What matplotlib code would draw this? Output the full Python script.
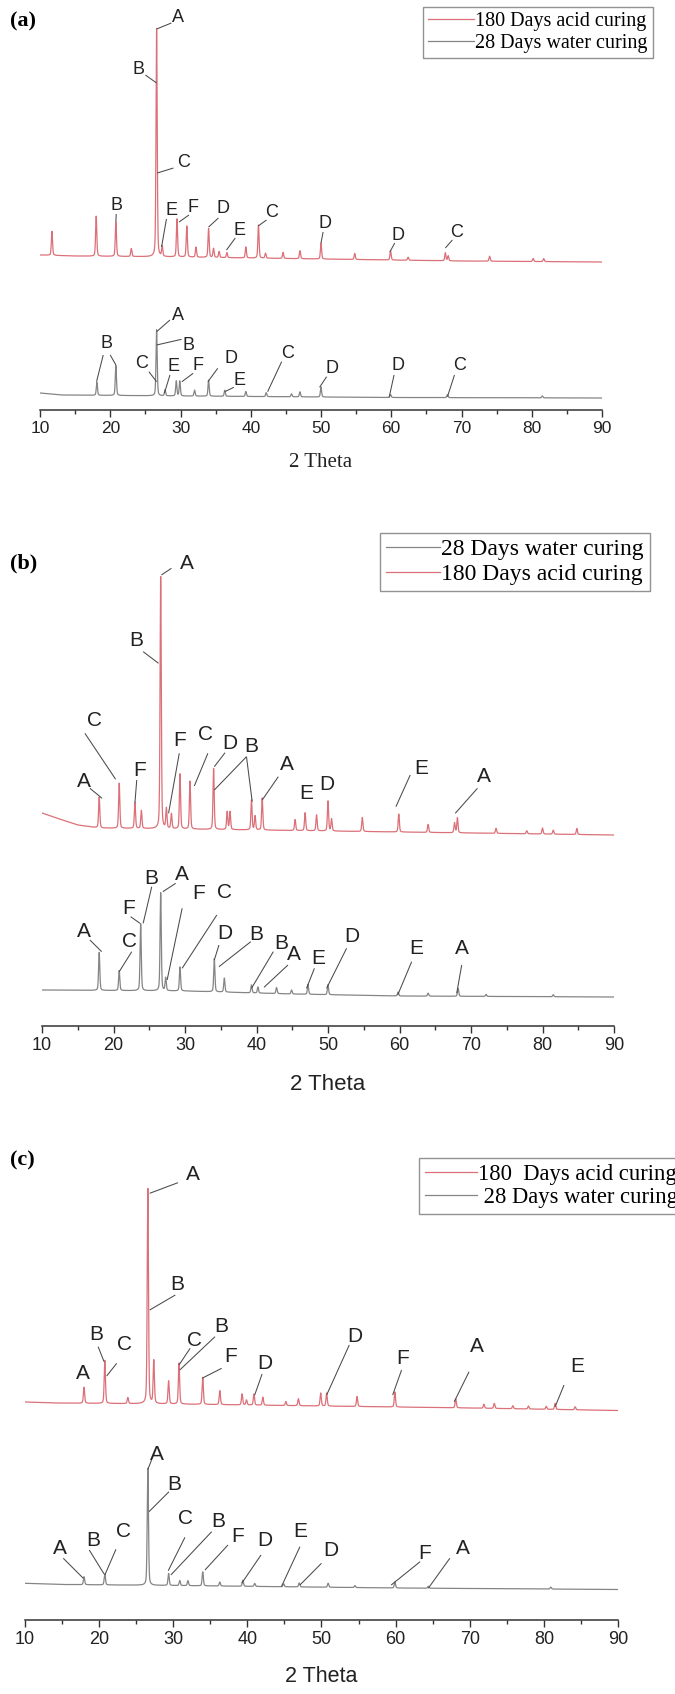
import matplotlib
import numpy as np

matplotlib.use("Agg")
import matplotlib.pyplot as plt

# ---- XRD peak lists (2 theta in degrees, intensity in a.u.) ----
# panel (a)
A_ACID_POS = [11.7, 18.0, 20.8, 23.0, 26.6, 27.4, 29.5, 30.9, 32.2, 34.0, 34.7, 35.5, 36.6, 39.3,
              41.1, 42.1, 44.6, 47.0, 50.0, 54.8, 59.9, 62.4, 67.7, 68.1, 74.0, 80.2, 81.7]
A_ACID_HT = [24, 40, 34, 8, 228, 10, 38, 31, 10, 29, 9, 6, 5, 11,
             33, 5, 6, 8, 16, 6, 9, 3, 8, 5, 5, 3, 3]
A_ACID_BG_X = [10, 15, 30, 50, 70, 90]
A_ACID_BG_Y = [155, 154, 153, 151, 149, 148]

A_WATER_POS = [18.1, 20.8, 26.6, 27.8, 29.4, 29.9, 32.0, 34.0, 36.3, 39.3, 42.2, 45.8, 47.0,
               50.0, 59.9, 68.0, 81.5]
A_WATER_HT = [13, 30, 66, 6, 15, 15, 6, 16, 6, 5, 4, 3, 5, 10, 3, 3, 2]
A_WATER_BG_X = [10, 13, 30, 60, 90]
A_WATER_BG_Y = [17, 15, 14, 12.5, 12]

# panel (b)
B_ACID_POS = [18.0, 20.8, 23.0, 23.9, 26.6, 27.4, 28.1, 29.3, 30.7, 34.0, 35.9, 36.3, 39.3, 39.8,
              40.8, 45.4, 46.8, 48.4, 50.0, 50.5, 54.8, 59.9, 64.0, 67.7, 68.1, 73.5, 77.8, 80.0,
              81.5, 84.8]
B_ACID_HT = [31, 45, 26, 18, 252, 20, 15, 55, 48, 61, 18, 18, 30, 14,
             32, 11, 18, 16, 30, 12, 14, 18, 8, 10, 15, 5, 3, 6, 4, 6]
B_ACID_BG_X = [10, 12, 15, 18, 40, 60, 90]
B_ACID_BG_Y = [213, 208, 201, 198, 196, 194, 191]

B_WATER_POS = [18.0, 20.8, 23.8, 26.6, 27.3, 29.3, 34.1, 35.5, 39.3, 40.2, 42.8, 44.9, 47.2,
               50.0, 59.8, 64.0, 68.2, 72.1, 81.5]
B_WATER_HT = [38, 20, 67, 98, 13, 24, 33, 14, 8, 6, 6, 4, 10, 10, 4, 3, 8, 2, 2]
B_WATER_BG_X = [10, 30, 45, 60, 90]
B_WATER_BG_Y = [36, 35, 32, 30, 29]

# panel (c)
C_ACID_POS = [18.0, 20.8, 23.9, 26.6, 27.4, 29.4, 30.8, 34.0, 36.3, 39.3, 39.9, 40.9, 42.1, 45.2,
              46.9, 49.9, 50.7, 54.8, 59.9, 68.1, 71.9, 73.3, 75.8, 77.9, 80.3, 81.5, 84.2]
C_ACID_HT = [16, 43, 6, 215, 43, 23, 41, 27, 14, 11, 5, 11, 8, 4,
             7, 13, 13, 10, 15, 9, 4, 5, 3, 3, 3, 6, 3]
C_ACID_BG_X = [10, 14, 30, 50, 70, 90]
C_ACID_BG_Y = [218, 217, 216, 214, 212, 209.5]

C_WATER_POS = [18.0, 20.8, 26.6, 29.4, 30.9, 32.0, 34.0, 36.3, 39.4, 41.0, 44.9, 47.0, 50.9,
               54.5, 59.9, 64.4, 80.9]
C_WATER_HT = [8, 11, 117, 12, 5, 5, 14, 4, 6, 3, 3, 4, 4, 2, 6, 2, 2]
C_WATER_BG_X = [10, 15, 30, 60, 90]
C_WATER_BG_Y = [36.7, 35.5, 34.5, 32, 30.5]

# phase labels: (letter, text 2theta, text height, leader segments)
A_NOTES = [
    ("A", 29.6, 393, [(26.6, 381, 28.7, 387)]),
    ("B", 24.05, 340, [(25.0, 335, 26.6, 327)]),
    ("C", 30.5, 248, [(26.7, 237, 29.0, 242)]),
    ("B", 20.9, 205, [(20.85, 196, 20.8, 188)]),
    ("E", 28.7, 200, [(28.0, 191, 27.3, 163)]),
    ("F", 31.8, 203, [(31.2, 195, 29.8, 188)]),
    ("D", 36.1, 202, [(35.4, 192, 34.0, 183)]),
    ("E", 38.45, 180, [(37.8, 172, 36.55, 160)]),
    ("C", 42.95, 198, [(42.25, 190, 41.05, 184)]),
    ("D", 50.5, 187, [(50.3, 178, 50.0, 167)]),
    ("D", 61.0, 175, [(60.5, 167, 59.8, 158)]),
    ("C", 69.3, 178, [(68.7, 170, 67.7, 162)]),
    ("B", 19.5, 66.7, [(19.0, 55, 18.05, 28.3), (20.0, 55, 20.8, 45)]),
    ("A", 29.7, 95, [(28.5, 90, 26.6, 78.3)]),
    ("B", 31.1, 65, [(30.15, 70.7, 26.6, 65)]),
    ("C", 24.5, 46.7, [(25.5, 38.3, 26.6, 28.3)]),
    ("E", 29.0, 43.3, [(28.5, 35, 27.7, 16.7)]),
    ("F", 32.5, 45, [(31.8, 36.7, 30.2, 28.3)]),
    ("D", 37.2, 51.7, [(35.3, 41.7, 33.9, 28.3)]),
    ("E", 38.45, 30, [(37.6, 22.7, 36.3, 18.3)]),
    ("C", 45.3, 56.7, [(44.4, 48.3, 42.4, 18.3)]),
    ("D", 51.5, 41.7, [(50.8, 33.3, 49.8, 22.7)]),
    ("D", 60.9, 45, [(60.4, 35, 59.7, 12.7)]),
    ("C", 69.75, 45, [(69.0, 35, 68.0, 13.3)]),
]

B_NOTES = [
    ("A", 30.2, 462.7, [(26.7, 451, 28.1, 457.7)]),
    ("B", 23.25, 386, [(24.15, 374.3, 26.3, 362.7)]),
    ("C", 17.4, 306, [(16.0, 292.7, 20.3, 246.7)]),
    ("A", 15.8, 244.3, [(16.7, 237.7, 18.4, 227.7)]),
    ("F", 23.7, 256, [(23.25, 246, 23.0, 223.3)]),
    ("F", 29.3, 286, [(29.2, 272.7, 27.7, 212.7)]),
    ("C", 32.8, 291, [(33.2, 272.7, 31.3, 240)]),
    ("D", 36.2, 282.7, [(35.6, 273.3, 34.1, 259.3)]),
    ("B", 39.3, 279.3, [(38.6, 269.3, 34.1, 236), (38.6, 269.3, 39.4, 224.3)]),
    ("A", 44.2, 261, [(43.05, 249.3, 40.8, 226)]),
    ("E", 47.0, 232.7, []),
    ("D", 49.8, 241, []),
    ("E", 63.1, 257.7, [(61.5, 251, 59.5, 219.3)]),
    ("A", 71.8, 249.3, [(70.9, 237.7, 67.8, 212.7)]),
    ("A", 15.8, 94.3, [(16.7, 86, 18.35, 74.3)]),
    ("C", 22.3, 84.3, [(22.55, 74.3, 20.8, 54.3)]),
    ("F", 22.1, 117.7, [(22.4, 109.3, 23.7, 102.7)]),
    ("B", 25.25, 147.7, [(25.35, 139.3, 24.15, 102.7)]),
    ("A", 29.6, 151, [(28.7, 142.7, 26.9, 134.3)]),
    ("F", 31.9, 132.7, [(29.6, 117.7, 27.5, 46)]),
    ("C", 35.55, 133.3, [(34.45, 111, 29.6, 57.7)]),
    ("D", 35.5, 92.7, [(34.75, 81, 34.1, 66)]),
    ("B", 40.0, 91, [(39.2, 84.3, 34.75, 59.3)]),
    ("B", 43.5, 82.7, [(42.35, 74.3, 39.3, 37.7)]),
    ("A", 45.2, 71, [(44.4, 61, 41.05, 38.7)]),
    ("E", 48.7, 67.7, [(48.1, 57.7, 47.0, 37.7)]),
    ("D", 53.3, 89.3, [(52.6, 77.7, 49.8, 37.7)]),
    ("E", 62.4, 77.7, [(61.7, 64.3, 59.75, 31)]),
    ("A", 68.7, 77.7, [(68.7, 61, 68.0, 32.7)]),
]

C_NOTES = [
    ("A", 32.7, 445, [(26.85, 426.7, 30.65, 437.3)]),
    ("B", 30.55, 335, [(26.85, 310, 30.3, 325)]),
    ("B", 19.7, 285, [(19.9, 273.3, 20.7, 258.3)]),
    ("C", 23.5, 275, [(22.4, 256.7, 21.05, 244)]),
    ("A", 17.9, 246.7, []),
    ("C", 32.95, 280, [(32.3, 271.7, 30.8, 255)]),
    ("B", 36.55, 293.3, [(35.65, 283.3, 30.9, 250)]),
    ("F", 37.7, 263.3, [(36.55, 251.7, 33.9, 241.7)]),
    ("D", 42.4, 256.7, [(42.0, 246, 41.0, 225)]),
    ("D", 54.5, 283.3, [(53.75, 275, 50.7, 225)]),
    ("F", 61.0, 261.7, [(60.8, 250, 59.6, 225)]),
    ("A", 71.0, 273.3, [(69.9, 248.3, 67.9, 218.3)]),
    ("E", 84.5, 253.3, [(82.7, 235, 81.5, 213.3)]),
    ("A", 27.8, 166, [(27.1, 160, 26.6, 150.7)]),
    ("B", 30.2, 135, [(29.45, 128.3, 26.75, 108.3)]),
    ("A", 14.75, 71.7, [(15.2, 61.7, 17.9, 41.7)]),
    ("B", 19.25, 80, [(18.7, 70, 20.7, 46)]),
    ("C", 23.3, 88.3, [(22.3, 70.7, 20.8, 45)]),
    ("C", 31.7, 101.7, [(31.6, 82.7, 29.35, 49.3)]),
    ("B", 36.1, 98.3, [(35.2, 88.3, 29.7, 45)]),
    ("F", 38.7, 84, [(37.4, 75, 34.3, 50)]),
    ("D", 42.4, 80, [(41.85, 65, 39.25, 36.7)]),
    ("E", 47.1, 88.3, [(47.1, 73.3, 44.6, 33.3)]),
    ("D", 51.3, 70, [(50.0, 56.7, 47.1, 35)]),
    ("F", 63.95, 66.7, [(63.3, 58.3, 59.4, 35)]),
    ("A", 69.0, 71.7, [(67.3, 61.7, 64.4, 31.7)]),
]

ACID = "180 Days acid curing"
WATER = "28 Days water curing"

RED = "#dc7078"
GREY = "#858585"
SERIF = ["Liberation Serif", "DejaVu Serif"]
SANS = ["Liberation Sans", "DejaVu Sans"]

W, H = 675, 1694
TT = np.arange(10.0, 90.0001, 0.01)


def peak(tt, pos, height, fwhm=0.2):
    g = np.exp(-4 * np.log(2) * ((tt - pos) / fwhm) ** 2)
    lor = 1.0 / (1.0 + 4 * ((tt - pos) / fwhm) ** 2)
    return height * (0.65 * g + 0.35 * lor)


def pattern(pos, ht, bg_x, bg_y):
    y = np.interp(TT, bg_x, bg_y)
    for p, h in zip(pos, ht):
        y = y + peak(TT, p, h)
    return y


def make_axes(fig, left, right, axis_y, top):
    ax = fig.add_axes([left / W, 1 - axis_y / H, (right - left) / W, (axis_y - top) / H])
    ax.set_xlim(10, 90)
    ax.set_ylim(0, axis_y - top)
    for side in ("left", "right", "top"):
        ax.spines[side].set_visible(False)
    ax.spines["bottom"].set_linewidth(1.1)
    ax.spines["bottom"].set_color("#333333")
    ax.set_yticks([])
    ax.set_xticks(np.arange(10, 91, 10))
    ax.set_xticks(np.arange(15, 90, 10), minor=True)
    ax.tick_params(axis="x", which="major", direction="out", length=5, width=1.0, color="#333333",
                   pad=3, labelcolor="#222222")
    ax.tick_params(axis="x", which="minor", direction="out", length=2.6, width=1.0, color="#333333")
    ax.patch.set_alpha(0)
    return ax


def add_notes(ax, notes, fs):
    for letter, x, y, leaders in notes:
        ax.text(x, y, letter, ha="center", va="center", fontsize=fs, family=SANS, color="#222222")
        for x0, y0, x1, y1 in leaders:
            ax.plot([x0, x1], [y0, y1], color="#4a4a4a", lw=0.75, solid_capstyle="butt")


fig = plt.figure(figsize=(W / 100, H / 100), dpi=100)

# ---------------- (a) ----------------
ax_a = make_axes(fig, 40, 602, 410, 0)
la_acid, = ax_a.plot(TT, pattern(A_ACID_POS, A_ACID_HT, A_ACID_BG_X, A_ACID_BG_Y), color=RED, lw=0.9)
la_water, = ax_a.plot(TT, pattern(A_WATER_POS, A_WATER_HT, A_WATER_BG_X, A_WATER_BG_Y), color=GREY, lw=0.9)
add_notes(ax_a, A_NOTES, 13)
for t in ax_a.get_xticklabels():
    t.set_fontsize(12.5)
    t.set_family(SANS)
ax_a.set_xlabel("2 Theta", fontsize=15, family=SERIF, va="center", color="#222222")
ax_a.xaxis.set_label_coords(0.5, -52 / 410)
ax_a.legend([la_acid, la_water], [ACID, WATER], loc="upper left",
            bbox_to_anchor=(423 / W, 1 - 7 / H), bbox_transform=fig.transFigure,
            prop={"family": SERIF, "size": 14.5}, frameon=True, fancybox=False,
            edgecolor="#777777", borderpad=0.25, labelspacing=0.12, handlelength=2.3,
            handletextpad=0.05, borderaxespad=0)
fig.text(23 / W, 1 - 21 / H, "(a)", ha="center", va="center", fontsize=16, family=SERIF, weight="bold")

# ---------------- (b) ----------------
ax_b = make_axes(fig, 42, 614, 1026, 500)
lb_acid, = ax_b.plot(TT, pattern(B_ACID_POS, B_ACID_HT, B_ACID_BG_X, B_ACID_BG_Y), color=RED, lw=0.9)
lb_water, = ax_b.plot(TT, pattern(B_WATER_POS, B_WATER_HT, B_WATER_BG_X, B_WATER_BG_Y), color=GREY, lw=0.9)
add_notes(ax_b, B_NOTES, 15)
for t in ax_b.get_xticklabels():
    t.set_fontsize(13)
    t.set_family(SANS)
ax_b.set_xlabel("2 Theta", fontsize=16, family=SANS, va="center", color="#222222")
ax_b.xaxis.set_label_coords(0.5, -58 / 526)
ax_b.legend([lb_water, lb_acid], [WATER, ACID], loc="upper left",
            bbox_to_anchor=(380 / W, 1 - 533 / H), bbox_transform=fig.transFigure,
            prop={"family": SERIF, "size": 17}, frameon=True, fancybox=False,
            edgecolor="#777777", borderpad=0.25, labelspacing=0.12, handlelength=2.3,
            handletextpad=0.05, borderaxespad=0)
fig.text(24 / W, 1 - 563 / H, "(b)", ha="center", va="center", fontsize=16, family=SERIF, weight="bold")

# ---------------- (c) ----------------
ax_c = make_axes(fig, 24.7, 618.2, 1620, 1100)
lc_acid, = ax_c.plot(TT, pattern(C_ACID_POS, C_ACID_HT, C_ACID_BG_X, C_ACID_BG_Y), color=RED, lw=0.9)
lc_water, = ax_c.plot(TT, pattern(C_WATER_POS, C_WATER_HT, C_WATER_BG_X, C_WATER_BG_Y), color=GREY, lw=0.9)
add_notes(ax_c, C_NOTES, 15)
for t in ax_c.get_xticklabels():
    t.set_fontsize(13)
    t.set_family(SANS)
ax_c.set_xlabel("2 Theta", fontsize=15.5, family=SANS, va="center", color="#222222")
ax_c.xaxis.set_label_coords(0.5, -56 / 520)
ax_c.legend([lc_acid, lc_water], ["180  Days acid curing", " " + WATER], loc="upper left",
            bbox_to_anchor=(419 / W, 1 - 1158 / H), bbox_transform=fig.transFigure,
            prop={"family": SERIF, "size": 16.3}, frameon=True, fancybox=False,
            edgecolor="#777777", borderpad=0.25, labelspacing=0.12, handlelength=2.3,
            handletextpad=0.05, borderaxespad=0)
fig.text(22 / W, 1 - 1160 / H, "(c)", ha="center", va="center", fontsize=16, family=SERIF, weight="bold")

fig.savefig("out.png", dpi=100)
plt.close(fig)
